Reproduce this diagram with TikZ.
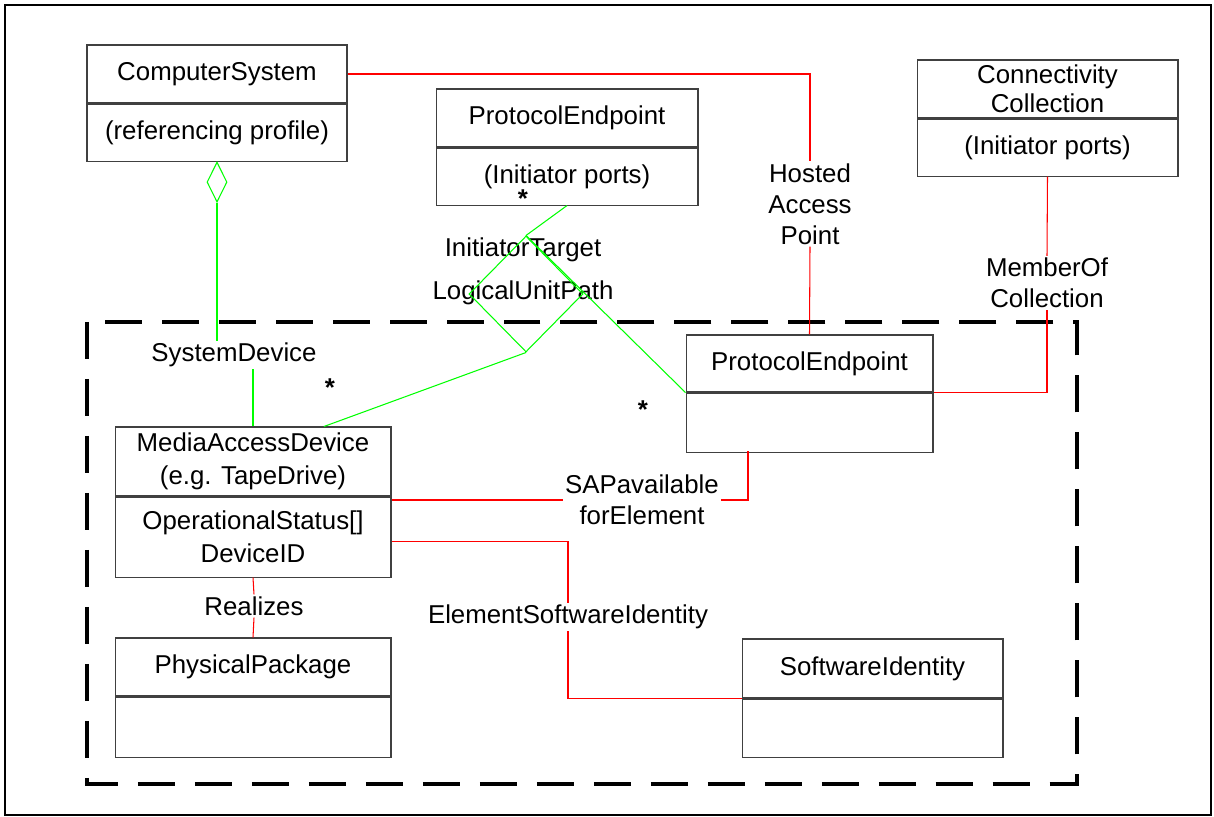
\documentclass[tikz,border=0pt]{standalone}
\usepackage{fontspec}
\setmainfont{Liberation Sans}
\usetikzlibrary{positioning,shapes.geometric}
\tikzset{
  clsbox/.style={draw=black!75, line width=0.6pt, align=center, inner sep=0pt},
  assoc/.style={red, line width=0.6pt},
  aggr/.style={green, line width=0.6pt},
  lbl/.style={fill=white, align=center, inner sep=1pt},
  mult/.style={inner sep=0pt, font=\fontsize{14.7pt}{17.6pt}\selectfont\bfseries},
}
\begin{document}
\begin{tikzpicture}[x=0.02cm, y=-0.02cm, every node/.style={font=\fontsize{14.7pt}{17.6pt}\selectfont}]
  \useasboundingbox (0,0) rectangle (1214,817);
  \draw[line width=1.1pt] (5,5) rectangle (1211,815);
  % profile boundary
  \draw[line width=2.3pt, dash pattern=on 0.74cm off 0.4cm] (87,322) rectangle (1077,784);

  % classes
  \node[clsbox, minimum width=5.2cm, minimum height=1.16cm] (cs) at (217,74) {ComputerSystem};
  \node[clsbox, minimum width=5.2cm, minimum height=1.14cm, below=0pt of cs] (csattr) {(referencing profile)};
  \node[clsbox, minimum width=5.24cm, minimum height=1.16cm] (pet) at (567,118) {ProtocolEndpoint};
  \node[clsbox, minimum width=5.24cm, minimum height=1.14cm, below=0pt of pet] (petattr) {(Initiator ports)};
  \node[clsbox, minimum width=5.22cm, minimum height=1.16cm, font=\fontsize{14.7pt}{16.5pt}\selectfont] (cc) at (1047.5,89) {Connectivity\\Collection};
  \node[clsbox, minimum width=5.22cm, minimum height=1.14cm, below=0pt of cc] (ccattr) {(Initiator ports)};
  \node[clsbox, minimum width=4.94cm, minimum height=1.14cm] (pe) at (809.5,363.5) {ProtocolEndpoint};
  \node[clsbox, minimum width=4.94cm, minimum height=1.18cm, below=0pt of pe] (peattr) {};
  \node[clsbox, minimum width=5.52cm, minimum height=1.38cm, font=\fontsize{14.7pt}{18.7pt}\selectfont] (mad) at (253,461.5) {MediaAccessDevice\\(e.g. TapeDrive)};
  \node[clsbox, minimum width=5.52cm, minimum height=1.6cm, below=0pt of mad, font=\fontsize{14.7pt}{18.7pt}\selectfont] (madattr) {OperationalStatus[]\\DeviceID};
  \node[clsbox, minimum width=5.52cm, minimum height=1.16cm] (pp) at (253,667) {PhysicalPackage};
  \node[clsbox, minimum width=5.52cm, minimum height=1.2cm, below=0pt of pp] (ppattr) {};
  \node[clsbox, minimum width=5.22cm, minimum height=1.18cm] (si) at (872.5,668.5) {SoftwareIdentity};
  \node[clsbox, minimum width=5.22cm, minimum height=1.16cm, below=0pt of si] (siattr) {};

  % association names
  \node[lbl] (hap) at (810,204) {Hosted\\Access\\Point};
  \node[lbl] (moc) at (1047,283) {MemberOf\\Collection};
  \node[lbl] (sap) at (642,500) {SAPavailable\\forElement};
  \node[lbl] (esi) at (568,617) {ElementSoftwareIdentity};
  \node[lbl] (rlz) at (254,606) {Realizes};
  \node[lbl] (sd) at (234,355) {SystemDevice};
  \node (itg) at (523,250) {InitiatorTarget};
  \node (lup) at (523,293) {LogicalUnitPath};

  % red associations
  \draw[assoc] (cs.east) -| (hap.north);
  \draw[assoc] (hap.south) -- (pe.north);
  \draw[assoc] (ccattr.south) -- (moc.north);
  \draw[assoc] (moc.south) |- (pe.south east);
  \coordinate (sapend) at (748,451);
  \draw[assoc] (madattr.east |- sap.west) -- (sap.west);
  \draw[assoc] (sap.east) -| (sapend);
  \draw[assoc] ([yshift=-0.08cm]madattr.east) -| (esi.north);
  \draw[assoc] (esi.south) |- (si.south west);
  \draw[assoc] (madattr.south) -- (rlz.north);
  \draw[assoc] (rlz.south) -- (pp.north);

  % green aggregation and 3-way association
  \node[aggr, draw, shape=diamond, minimum width=0.4cm, minimum height=0.8cm, inner sep=0pt, anchor=north] (agg) at (csattr.south) {};
  \draw[aggr] (agg.south) -- (agg.south |- sd.north);
  \draw[aggr] (mad.north |- sd.south) -- (mad.north);
  \node[aggr, draw, shape=diamond, minimum width=2.28cm, minimum height=2.32cm, inner sep=0pt] (itl) at (526,294) {};
  \draw[aggr] (petattr.south) -- (itl.north);
  \draw[aggr] (itl.north) -- (pe.south west);
  \draw[aggr] (itl.south) -- ([xshift=1.42cm]mad.north);

  % multiplicities
  \node[mult] (st1) at (523,199) {*};
  \node[mult] (st2) at (330,388) {*};
  \node[mult] (st3) at (643,410) {*};
\end{tikzpicture}
\end{document}
